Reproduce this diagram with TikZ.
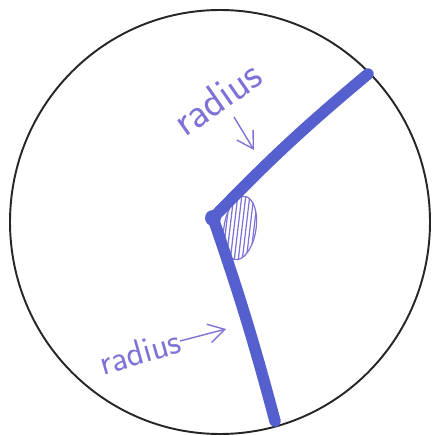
\documentclass[tikz,border=0pt]{standalone}
\usepackage{tikz}
\usetikzlibrary{arrows.meta,positioning,calc}
\definecolor{penCol}{RGB}{85,95,205}
\definecolor{inkCol}{RGB}{125,115,215}
\tikzset{
  rim/.style={draw=black!85,line width=1.1pt},
  rad/.style={draw=penCol,line width=6.5pt,line cap=round,line join=round},
  hub/.style={circle,fill=penCol,inner sep=0pt,minimum size=3.2mm},
  lab/.style={text=inkCol,font=\sffamily\fontsize{24}{24}\selectfont,inner sep=0pt},
  note/.style={-{Straight Barb[length=3.2mm,width=3.8mm]},draw=inkCol,line width=0.8pt},
  hatch/.style={draw=inkCol,line width=0.7pt},
}

\begin{document}
\begin{tikzpicture}[x=0.02cm,y=-0.02cm]
    \useasboundingbox (0,0) rectangle (434,436);
    % --- the circle ---
    \coordinate (O) at (220,222);
    \draw[rim] (O) ellipse (210 and 212);
    % --- shaded angle at the centre ---
    \begin{scope}
      \path[clip,rotate around={-9:(240,228)}] (240,228) ellipse (16 and 32);
      \foreach \i in {-4,...,4}
        \draw[hatch] (238+4*\i,262) -- (246+4*\i,194);
    \end{scope}
    \draw[hatch,rotate around={-9:(240,228)}] (240,228) ellipse (16 and 32);
    % --- the two radii ---
    \node[hub] (c) at (213,218) {};
    \coordinate (endA) at (368,74);
    \coordinate (endB) at (275,421);
    \draw[rad] (c.center) to[bend left=3] (endA);
    \draw[rad] (c.center) to[bend left=2] (endB);
    % --- labels ---
    \node[lab,rotate=35] (labA) at (217,98) {radius};
    \node[lab,rotate=16,scale=0.85] (labB) at (140,352) {radius};
    \coordinate (fromA) at (234,117);
    \coordinate (toA) at (254,150);
    \coordinate (fromB) at (180,341);
    \coordinate (toB) at (226,329);
    \draw[note] (fromA) -- (toA);
    \draw[note] (fromB) -- (toB);
\end{tikzpicture}
\end{document}
